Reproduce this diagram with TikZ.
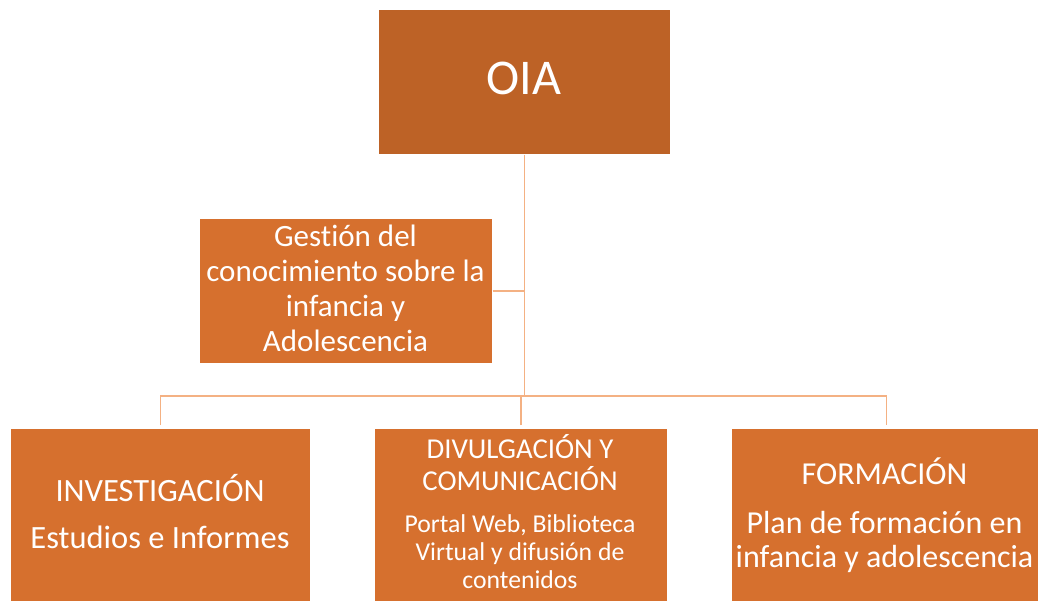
\documentclass[tikz,border=0pt]{standalone}
\usepackage{fontspec}
\setmainfont{Carlito}[Ligatures={NoCommon,NoRare}]
\definecolor{oiafill}{HTML}{BD6226}
\definecolor{boxfill}{HTML}{D6702E}
\definecolor{connline}{HTML}{F4B183}
\tikzset{
  orgbox/.style={rectangle, draw=white, line width=0.6pt, inner sep=0pt, anchor=north west},
  conn/.style={draw=connline, line width=1.6pt},
  lbl/.style={text=white, inner sep=0pt, align=center, anchor=base},
}
\newcommand{\fsz}[2]{\fontsize{#1}{#2}\selectfont}
\begin{document}
\begin{tikzpicture}[x=1pt,y=-1pt]
\useasboundingbox (0,0) rectangle (1038,601);
\fill[white] (0,0) rectangle (1038,601);
% boxes
\node[orgbox, fill=oiafill, minimum width=292pt, minimum height=145pt] (oia) at (378,9) {};
\node[orgbox, fill=boxfill, minimum width=293pt, minimum height=145pt] (gest) at (199,218) {};
\node[orgbox, fill=boxfill, minimum width=300pt, minimum height=180pt] (inv) at (10,428) {};
\node[orgbox, fill=boxfill, minimum width=293pt, minimum height=180pt] (div) at (374,428) {};
\node[orgbox, fill=boxfill, minimum width=310pt, minimum height=180pt] (frm) at (731,428) {};
% texts (anchor base = baseline of the last line)
\node[lbl, font=\fsz{50}{60}] (oiat) at (524,95) {OIA};
\node[lbl, font=\fsz{31}{35.3}] (gestt) at (345.5,352) {Gestión del\\conocimiento sobre la\\infancia y\\Adolescencia};
\node[lbl, font=\fsz{32.5}{47}] (invt) at (160,548) {INVESTIGACIÓN\\Estudios e Informes};
\node[lbl, font=\fsz{28.8}{32}] (divt) at (520,490) {DIVULGACIÓN Y\\COMUNICACIÓN};
\node[lbl, font=\fsz{25.7}{28}] (divs) at (520,588) {Portal Web, Biblioteca\\Virtual y difusión de\\contenidos};
\node[lbl, font=\fsz{32}{34}] (frmt) at (884.5,484) {FORMACIÓN};
\node[lbl, font=\fsz{32}{34}] (frms) at (884.5,567) {Plan de formación en\\infancia y adolescencia};
% connectors
\coordinate (hl) at (160,396);
\draw[conn] (oia.south) -- (oia.south |- hl);
\draw[conn] (gest.east) -- (gest.east -| oia.south);
\draw[conn] ([yshift=3pt]inv.north) -- (inv.north |- hl) -| ([yshift=3pt]frm.north);
\draw[conn] ([yshift=3pt]div.north) -- (div.north |- hl);
\end{tikzpicture}
\end{document}
